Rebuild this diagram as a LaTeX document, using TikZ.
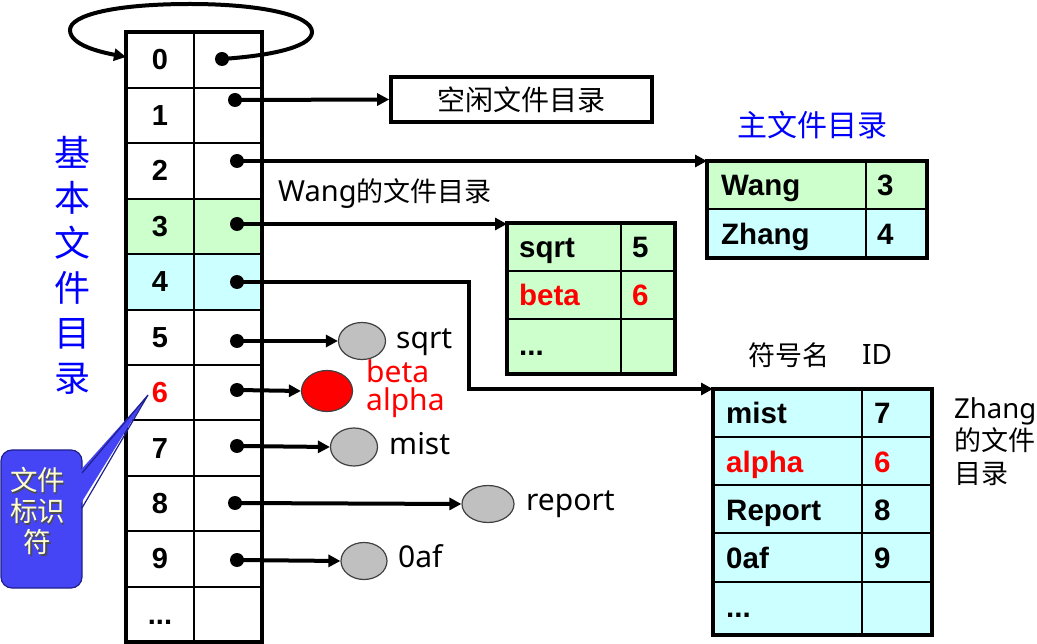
\documentclass[tikz,border=0pt]{standalone}
\usepackage{fontspec}
\setmainfont{Liberation Sans}
\newfontfamily\cjk{Noto Sans CJK SC}
\newfontfamily\latin{Noto Sans}
\usetikzlibrary{arrows.meta,shapes.geometric}
\definecolor{lgreen}{HTML}{CCFFCC}
\definecolor{lcyan}{HTML}{CCFFFF}
\definecolor{cblue}{HTML}{4545F5}
\definecolor{cborder}{HTML}{20208C}
\definecolor{tblue}{HTML}{0000FF}
\definecolor{ered}{HTML}{FF0000}
\definecolor{egray}{HTML}{C0C0C0}
\definecolor{cream}{HTML}{FFFFCC}
\begin{document}
\begin{tikzpicture}[x=1pt,y=-1pt,
  num/.style={font=\bfseries\fontsize{29}{30}\selectfont, anchor=base, inner sep=0pt},
  tab/.style={font=\bfseries\fontsize{29.5}{30}\selectfont, anchor=base west, inner sep=0pt},
  lab/.style={font=\cjk\fontsize{27}{32}\selectfont, inner sep=0pt},
  llab/.style={font=\latin\fontsize{30}{32}\selectfont, inner sep=0pt, anchor=base west},
  link/.style={line width=4pt, -{Triangle[length=12pt,width=12pt]}},
  dotc/.style={circle, fill=black, inner sep=0pt, minimum size=14pt},
  filenode/.style={ellipse, draw=black!75, line width=1.2pt, fill=egray, inner sep=0pt},
  outer/.style={line width=3.6pt},
  inner/.style={line width=1.6pt}]
\useasboundingbox (0,0) rectangle (1037,644);

% ---------- main table ----------
\fill[lgreen] (126,199) rectangle (262,254);
\fill[lcyan] (126,254) rectangle (262,310);
\foreach \y in {88,143,199,254,310,365,420,476,531,587}
  \draw[inner] (126,\y) -- (262,\y);
\draw[inner] (194,32) -- (194,642);
\draw[outer] (126,32) rectangle (262,642);
\foreach \t/\c in {0/60,1/115.5,2/171,3/226.5,4/282,5/337.5,7/448,8/503.5,9/558.5}
  \node[num] (n\t) at (160,\c+10) {\t};
\node[num, text=ered] (n6) at (160,402.5) {6};
\node[num] (ndots) at (160,624.5) {...};

% dots
\node[dotc] (d0) at (222,59) {};
\node[dotc] (d1) at (235,100) {};
\node[dotc] (d2) at (237,161) {};
\node[dotc] (d3) at (237,224) {};
\node[dotc] (d4) at (237,282) {};
\node[dotc] (d5) at (237,341) {};
\node[dotc] (d6) at (237,390) {};
\node[dotc] (d7) at (237,446) {};
\node[dotc] (d8) at (235,503) {};
\node[dotc] (d9) at (237,560) {};

% loop from row 0
\coordinate (tbl0) at (126,57);
\draw[line width=4pt, -{Triangle[length=12pt,width=12pt]}]
  (d0.center) .. controls (280,55) and (312,45) .. (312,32)
  .. controls (312,15) and (260,4) .. (190,4)
  .. controls (115,4) and (70,15) .. (70,30)
  .. controls (70,45) and (100,52) .. (tbl0);

% ---------- free dir box ----------
\node[draw, line width=3.6pt, minimum width=261pt, minimum height=45pt, inner sep=0pt,
      font=\cjk\fontsize{28}{32}\selectfont] (free) at (521.5,99.5) {空闲文件目录};
\draw[link] (d1.center) -- (free.west);

% ---------- master directory ----------
\fill[lgreen] (707,161) rectangle (927,209);
\fill[lcyan] (707,209) rectangle (927,258);
\draw[inner] (707,209) -- (927,209);
\draw[inner] (866,161) -- (866,258);
\draw[outer] (707,161) rectangle (927,258);
\coordinate (mdir) at (707,161);
\node[tab] (mw) at (721,196) {Wang};
\node[tab] (m3) at (877,196) {3};
\node[tab] (mz) at (721,245) {Zhang};
\node[tab] (m4) at (877,245) {4};
\node[lab, font=\cjk\fontsize{30}{32}\selectfont, text=tblue] (mtitle) at (812,125) {主文件目录};
\draw[link] (d2.center) -- (mdir);

% ---------- Wang directory ----------
\fill[lgreen] (507,223) rectangle (675,374);
\draw[inner] (507,271) -- (675,271);
\draw[inner] (507,319) -- (675,319);
\draw[inner] (621,223) -- (621,374);
\draw[outer] (507,223) rectangle (675,374);
\coordinate (wdir) at (507,224);
\node[tab] (ws) at (519,258) {sqrt};
\node[tab] (w5) at (632,258) {5};
\node[tab, text=ered] (wb) at (519,306) {beta};
\node[tab, text=ered] (w6) at (632,306) {6};
\node[tab] (wd) at (519,356) {...};
\node[lab, anchor=base west] (wtitle) at (278,202) {{\latin\fontsize{29}{32}\selectfont Wang}的文件目录};
\draw[link] (d3.center) -- (wdir);

% ---------- Zhang directory ----------
\fill[lcyan] (713,389) rectangle (932,635);
\foreach \y in {437,485,533,582}
  \draw[inner] (713,\y) -- (932,\y);
\draw[inner] (862,389) -- (862,635);
\draw[outer] (713,389) rectangle (932,635);
\coordinate (zdir) at (713,389);
\node[tab] (zm) at (726,424) {mist};
\node[tab] (z7) at (874,424) {7};
\node[tab, text=ered] (za) at (726,472) {alpha};
\node[tab, text=ered] (z6) at (874,472) {6};
\node[tab] (zr) at (726,520) {Report};
\node[tab] (z8) at (874,520) {8};
\node[tab] (zo) at (726,568) {0af};
\node[tab] (z9) at (874,568) {9};
\node[tab] (zd) at (726,617) {...};
\node[lab] (zh1) at (789,355) {符号名};
\node[llab, font=\latin\fontsize{28}{32}\selectfont] (zh2) at (862,365) {ID};
\node[lab, anchor=north west, align=left, font=\cjk\fontsize{27}{32.5}\selectfont] (ztitle) at (954,397)
  {{\latin\fontsize{27.5}{32}\selectfont Zhang}\\的文件\\目录};
\coordinate (bend1) at (469,282);
\coordinate (bend2) at (469,389);
\draw[line width=4pt, -{Triangle[length=12pt,width=12pt]}]
  (d4.center) -- (bend1) -- (bend2) -- (zdir);

% ---------- file nodes ----------
\node[filenode, minimum width=47pt, minimum height=37pt] (f5) at (362,341) {};
\node[filenode, fill=ered, minimum width=51pt, minimum height=41pt] (f6) at (327,391) {};
\node[filenode, minimum width=47pt, minimum height=38pt] (f7) at (354,447) {};
\node[filenode, minimum width=52pt, minimum height=37pt] (f8) at (488,504) {};
\node[filenode, minimum width=46pt, minimum height=37pt] (f9) at (364,561) {};
\draw[link] (d5.center) -- (f5.west);
\draw[link] (d6.center) -- (f6.west);
\draw[link] (d7.center) -- (f7.west);
\draw[link] (d8.center) -- (f8.west);
\draw[link] (d9.center) -- (f9.west);
\node[llab] (l5) at (396,349) {sqrt};
\node[llab, text=ered] (l6a) at (366,383) {beta};
\node[llab, text=ered] (l6b) at (366,411) {alpha};
\node[llab] (l7) at (389,454) {mist};
\node[llab] (l8) at (526,510) {report};
\node[llab] (l9) at (398,567) {0af};

% ---------- vertical title ----------
\node[lab, font=\cjk\fontsize{36}{45}\selectfont, text=tblue, align=center] (vtitle) at (72,265)
  {基\\本\\文\\件\\目\\录};

% ---------- callout ----------
\draw[fill=cblue, draw=cborder, line width=1.2pt, rounded corners=11pt] (1,450) rectangle (82,588);
\fill[cblue] (78,473) -- (148,395) -- (78,508) -- cycle;
\draw[cborder, line width=1.2pt] (82,473) -- (148,395) -- (82,508);
\node[lab, align=center, text=black!70, font=\cjk\fontsize{27.5}{31}\selectfont] (cshadow) at (39,512.5) {文件\\标识\\符};
\node[lab, align=center, text=cream, font=\cjk\fontsize{27.5}{31}\selectfont] (ctext) at (37.5,511) {文件\\标识\\符};
\end{tikzpicture}
\end{document}
